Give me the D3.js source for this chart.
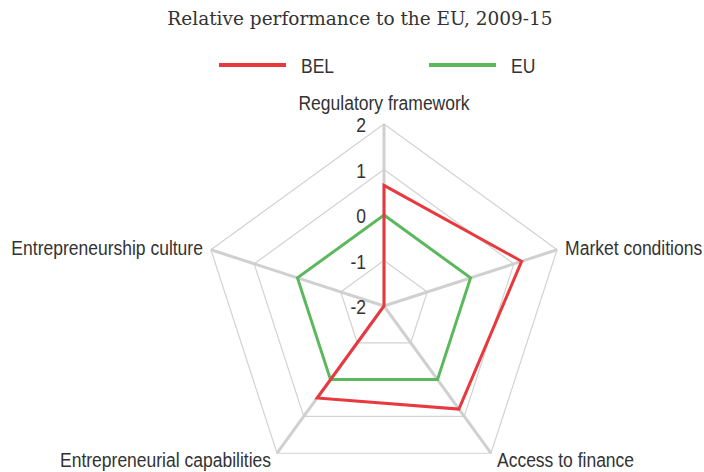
<!DOCTYPE html>
<html>
<head>
<meta charset="utf-8">
<script src="https://cdn.jsdelivr.net/npm/d3@7"></script>
<style>
  body { margin: 0; background: #fff; }
  svg { display: block; }
</style>
</head>
<body>
<script>
//Chart data
var axesNames = ["Regulatory framework", "Market conditions", "Access to finance",
                 "Entrepreneurial capabilities", "Entrepreneurship culture"];
var belValues = [0.65, 1.18, 0.8, 0.5, -2];
var euValues = [0, 0, 0, 0, 0];
var tickValues = [-2, -1, 0, 1, 2];
var seriesNames = ["BEL", "EU"];
var seriesColors = ["#e8393f", "#5cb85c"];
var titleText = "Relative performance to the EU, 2009-15";

//SVG size
var w = 704;
var h = 472;

//Center and radius of the radar
var cx = 384;
var cy = 306;
var radius = 182;

//The labels use a narrow sans, so Liberation Sans is squeezed a bit
var labelFont = "'Liberation Sans', Arial, sans-serif";
var squeeze = 0.875;

var svg = d3.select('body')
  .append('svg')
  .attr('width', w)
  .attr('height', h);

//Value scale: -2 at the center, 2 at the outer ring
var rScale = d3.scaleLinear()
  .domain([-2, 2])
  .range([0, radius]);

//Angle of each axis, clockwise from the top
var angleScale = d3.scalePoint()
  .domain(axesNames)
  .range([0, 2 * Math.PI * (axesNames.length - 1) / axesNames.length]);

function point(name, value) {
  var a = angleScale(name);
  var r = rScale(value);
  return [cx + r * Math.sin(a), cy - r * Math.cos(a)];
}

function place(x, y) {
  return "translate(" + x + "," + y + ") scale(" + squeeze + ",1)";
}

var line = d3.line()
  .x(function (d) { return d[0]; })
  .y(function (d) { return d[1]; })
  .curve(d3.curveLinearClosed);

//Grid rings
svg.append('g')
  .selectAll('path')
  .data(tickValues.slice(1))
  .enter()
  .append('path')
  .attr('d', function (t) {
    return line(axesNames.map(function (n) { return point(n, t); }));
  })
  .attr('fill', 'none')
  .attr('stroke', '#d2d2d2')
  .attr('stroke-width', 1.2);

//Axis spokes
svg.append('g')
  .selectAll('line')
  .data(axesNames)
  .enter()
  .append('line')
  .attr('x1', cx)
  .attr('y1', cy)
  .attr('x2', function (n) { return point(n, 2)[0]; })
  .attr('y2', function (n) { return point(n, 2)[1]; })
  .attr('stroke', '#d0d0d0')
  .attr('stroke-width', 3);

//Series polygons
var series = [
  {name: seriesNames[0], values: belValues, color: seriesColors[0]},
  {name: seriesNames[1], values: euValues, color: seriesColors[1]}
];

svg.append('g')
  .selectAll('path')
  .data(series.slice().reverse())
  .enter()
  .append('path')
  .attr('d', function (s) {
    return line(axesNames.map(function (n, i) { return point(n, s.values[i]); }));
  })
  .attr('fill', 'none')
  .attr('stroke', function (s) { return s.color; })
  .attr('stroke-width', 3)
  .attr('stroke-linejoin', 'miter');

//Tick labels along the top axis
svg.append('g')
  .selectAll('text')
  .data(tickValues)
  .enter()
  .append('text')
  .text(function (d) { return d; })
  .attr('transform', function (d) { return place(cx - 18, cy - rScale(d) + 8); })
  .attr('text-anchor', 'end')
  .attr('font-family', labelFont)
  .attr('font-size', '20px')
  .attr('fill', '#333');

//Axis labels
svg.append('g')
  .selectAll('text')
  .data(axesNames)
  .enter()
  .append('text')
  .text(function (n) { return n; })
  .attr('transform', function (n) {
    var p = point(n, 2);
    if (Math.abs(p[0] - cx) < 1) return place(p[0], p[1] - 14);
    if (p[1] > cy + 50) return place(p[0] > cx ? p[0] + 6 : p[0] - 6, p[1] + 14);
    return place(p[0] > cx ? p[0] + 8 : p[0] - 8, p[1] + 5);
  })
  .attr('text-anchor', function (n) {
    var p = point(n, 2);
    if (Math.abs(p[0] - cx) < 1) return 'middle';
    return p[0] > cx ? 'start' : 'end';
  })
  .attr('font-family', labelFont)
  .attr('font-size', '20px')
  .attr('fill', '#333');

//Legend
var legend = svg.append('g')
  .selectAll('g')
  .data(series)
  .enter()
  .append('g')
  .attr('transform', function (s, i) { return "translate(" + (219 + i * 210) + ",65)"; });

legend.append('line')
  .attr('x1', 0)
  .attr('x2', 67)
  .attr('y1', 0)
  .attr('y2', 0)
  .attr('stroke', function (s) { return s.color; })
  .attr('stroke-width', 4);

legend.append('text')
  .text(function (s) { return s.name; })
  .attr('transform', place(82, 8))
  .attr('font-family', labelFont)
  .attr('font-size', '20px')
  .attr('fill', '#333');

//Subtitle
svg.append('text')
  .text(titleText)
  .attr('x', 360)
  .attr('y', 25)
  .attr('text-anchor', 'middle')
  .attr('font-family', "'DejaVu Serif', serif")
  .attr('font-size', '18.5px')
  .attr('fill', '#333');
</script>
</body>
</html>
